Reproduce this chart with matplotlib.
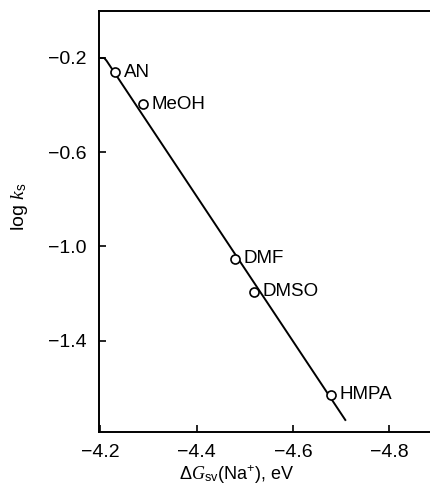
import matplotlib
matplotlib.use('Agg')
import matplotlib.pyplot as plt

# datos
solvents = ['AN', 'MeOH', 'DMF', 'DMSO', 'HMPA']
dG_sv = [-4.231, -4.289, -4.480, -4.520, -4.680]
log_ks = [-0.260, -0.396, -1.051, -1.191, -1.630]

# recta de ajuste (extremos)
fit_x = [-4.200, -4.208, -4.213, -4.709]
fit_y = [-0.200, -0.200, -0.212, -1.736]

xticks = [-4.2, -4.4, -4.6, -4.8]
yticks = [-0.2, -0.6, -1.0, -1.4]

plt.rcParams['font.family'] = ['Liberation Sans', 'DejaVu Sans']
plt.rcParams['mathtext.fontset'] = 'custom'
plt.rcParams['mathtext.rm'] = 'Liberation Sans'
plt.rcParams['mathtext.it'] = 'Liberation Serif:italic'

fig = plt.figure(figsize=(4.3, 4.92), dpi=100)
ax = fig.add_axes([0.230, 0.122, 0.770, 0.856])

ax.plot(fit_x, fit_y, color='black', lw=1.4, zorder=2)
ax.plot(dG_sv, log_ks, 'o', mfc='white', mec='black', ms=6.5, mew=1.2, zorder=3)

for name, x, y in zip(solvents, dG_sv, log_ks):
    ax.annotate(name, (x, y), xytext=(6, 0), textcoords='offset points',
                ha='left', va='center', fontsize=13.5)

ax.set_xlim(-4.197, -4.885)
ax.set_ylim(-1.787, 0.0)
ax.set_xticks(xticks)
ax.set_xticklabels([f'{v:.1f}'.replace('-', '\u2212') for v in xticks])
ax.set_yticks(yticks)
ax.set_yticklabels([f'{v:.1f}'.replace('-', '\u2212') for v in yticks])
ax.tick_params(direction='in', length=5, width=1.2, labelsize=14, pad=9)

ax.spines['right'].set_visible(False)
for s in ['left', 'top', 'bottom']:
    ax.spines[s].set_linewidth(1.4)

fig.text(0.045, 0.58, r'log $k_{\rm s}$', rotation=90, ha='center', va='center', fontsize=14)
fig.text(0.55, 0.036, r'$\Delta G_{\rm sv}$(Na$^{+}$), eV', ha='center', va='center', fontsize=13)

plt.savefig('out.png', dpi=100)
